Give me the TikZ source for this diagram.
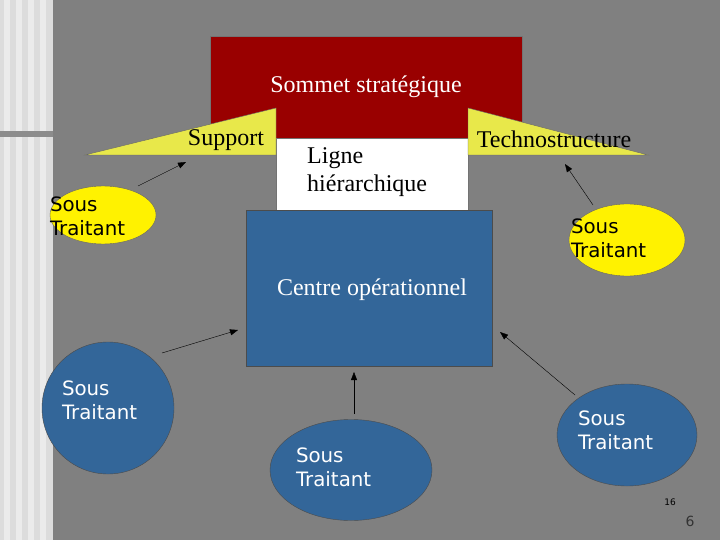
\documentclass[tikz,border=0pt]{standalone}
\usepackage{fontspec}
\setmainfont{Liberation Serif}
\newfontfamily\sousfont{DejaVu Sans}
\usetikzlibrary{arrows.meta, positioning, shapes.geometric}
\definecolor{fond}{HTML}{808080}
\definecolor{colonne}{HTML}{DCDCDC}
\definecolor{rouge}{HTML}{990000}
\definecolor{bleu}{HTML}{336699}
\definecolor{jaune}{HTML}{E8E84A}

\tikzset{
  boite/.style={draw=black!55, thin, inner sep=0pt},
  fleche/.style={-{Triangle[length=8pt,width=6pt]}, black, thin},
  sousjaune/.style={ellipse, draw=black!60, thin, fill=yellow, inner sep=0pt},
  sousbleu/.style={ellipse, draw=black!70, thin, fill=bleu, inner sep=0pt},
  soustexte/.style={font=\sousfont\fontsize{19.8}{24}\selectfont, align=left, inner sep=0pt, anchor=west},
  titre/.style={font=\fontsize{24}{26}\selectfont, inner sep=0pt}
}

\begin{document}
\begin{tikzpicture}[x=1pt, y=-1pt]
        % fond gris et colonne a gauche
        \useasboundingbox (0,0) rectangle (720,540);
        \fill[fond] (0,0) rectangle (720,540);
        \fill[colonne] (0,0) rectangle (53,540);
        \foreach \x in {4,16,28,40}
          \fill[white!92!black] (\x,0) rectangle ++(6,540);
        \fill[black!45] (0,131) rectangle (53,137);

        % les trois blocs du centre
        \node[boite, fill=rouge, minimum width=312pt, minimum height=102pt,
              titre, text=white] (sommet) at (366,87) {Sommet stratégique};
        \node[boite, fill=white, minimum width=192pt, minimum height=72pt] (ligne) at (372,174) {};
        \node[titre, align=left, anchor=west, font=\fontsize{24}{28}\selectfont] (lignetxt) at (307,172) {Ligne\\hiérarchique};
        \node[boite, draw=black!70, fill=bleu, minimum width=246pt, minimum height=156pt] (centre) at (369,288) {};
        \node[titre, text=white] (centretxt) at (372,290) {Centre opérationnel};

        % les deux triangles jaunes
        \draw[fill=jaune, draw=black!60, thin] (85,155) -- (276,108) -- (276,155) -- cycle;
        \draw[fill=jaune, draw=black!60, thin] (468,108) -- (648,155) -- (468,155) -- cycle;
        \node[titre] (support) at (226,140) {Support};
        \node[titre] (techno) at (554,139) {Technostructure};

        % les sous traitants
        \node[sousjaune, minimum width=106pt, minimum height=58pt] (stA) at (103,215) {};
        \node[sousjaune, minimum width=116pt, minimum height=72pt] (stB) at (627,240) {};
        \node[sousbleu, minimum width=132pt, minimum height=132pt] (stC) at (108,408) {};
        \node[sousbleu, minimum width=162pt, minimum height=101pt] (stD) at (351,470) {};
        \node[sousbleu, minimum width=140pt, minimum height=102pt] (stE) at (627,435) {};

        \node[soustexte, right=0pt of stA.west, yshift=-1pt] (stAtxt) {Sous\\Traitant};
        \node[soustexte, right=2pt of stB.west, yshift=2pt] (stBtxt) {Sous\\Traitant};
        \node[soustexte, right=20pt of stC.west, yshift=8pt, text=white] (stCtxt) {Sous\\Traitant};
        \node[soustexte, right=26pt of stD.west, yshift=3pt, text=white] (stDtxt) {Sous\\Traitant};
        \node[soustexte, right=21pt of stE.west, yshift=5pt, text=white] (stEtxt) {Sous\\Traitant};

        % bouts des fleches
        \coordinate (aA) at (138,186);  \coordinate (bA) at (186,162);
        \coordinate (aB) at (593,205);  \coordinate (bB) at (565,164);
        \coordinate (aC) at (162,353);  \coordinate (bC) at (238,330);
        \coordinate (aD) at (354,414);  \coordinate (bD) at (354,372);
        \coordinate (aE) at (575,395);  \coordinate (bE) at (500,332);
        \draw[fleche] (aA) -- (bA);
        \draw[fleche] (aB) -- (bB);
        \draw[fleche] (aC) -- (bC);
        \draw[fleche] (aD) -- (bD);
        \draw[fleche] (aE) -- (bE);

        % numeros de page
        \node[font=\sousfont\fontsize{9}{10}\selectfont] (num16) at (670,502) {16};
        \node[font=\sousfont\fontsize{14}{16}\selectfont, text=black!80] (num6) at (690,521) {6};
    \end{tikzpicture}
\end{document}
